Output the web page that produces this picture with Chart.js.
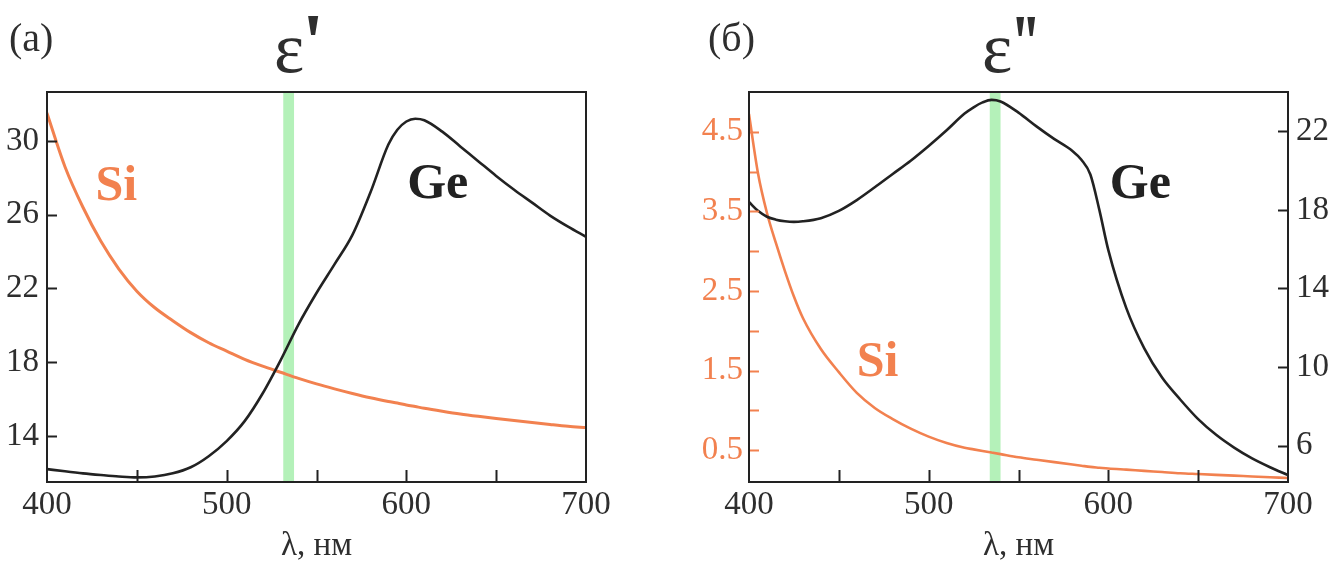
<!DOCTYPE html>
<html>
<head>
<meta charset="utf-8">
<script src="https://cdn.jsdelivr.net/npm/chart.js@4.4.1/dist/chart.umd.min.js"></script>
<style>
    html, body { margin: 0; padding: 0; background: #fff; }
    #wrap { position: relative; width: 1337px; height: 563px; overflow: hidden; }
    #epsRe { position: absolute; left: 0; top: 0; }
    #epsIm { position: absolute; left: 668px; top: 0; }
</style>
</head>
<body>
<div id="wrap">
    <canvas id="epsRe" width="668" height="563"></canvas>
    <canvas id="epsIm" width="669" height="563"></canvas>
</div>
<script>
// === DATA ===
// (a) real part, wavelength grid in nm
const wlA  = [400, 410, 420, 430, 440, 450, 460, 470, 480, 490, 500, 510, 520, 530, 540, 550, 560,
              570, 580, 590, 595, 600, 605, 610, 620, 630, 640, 650, 660, 670, 680, 690, 700];
const siRe = [31.5, 28.6, 26.4, 24.55, 23.05, 21.85, 20.95, 20.25, 19.6, 19.05, 18.6, 18.15, 17.78, 17.45, 17.12, 16.82, 16.55,
              16.3, 16.07, 15.87, 15.78, 15.68, 15.59, 15.5, 15.34, 15.19, 15.06, 14.94, 14.83, 14.73, 14.62, 14.52, 14.45];
const geRe = [12.2, 12.08, 11.97, 11.88, 11.8, 11.75, 11.8, 11.97, 12.3, 12.9, 13.72, 14.8, 16.3, 18.1, 20.05, 21.75, 23.3,
              24.9, 27.2, 29.8, 30.6, 31.05, 31.2, 31.12, 30.5, 29.7, 28.9, 28.1, 27.35, 26.65, 25.95, 25.35, 24.8];

// (б) imaginary part
const wlB  = [400, 405, 410, 415, 420, 425, 430, 440, 450, 460, 470, 480, 490, 500, 510, 520, 525, 530, 535,
              540, 550, 560, 570, 580, 585, 590, 595, 600, 610, 620, 630, 640, 650, 660, 670, 680, 690, 700];
const siIm = [4.72, 3.98, 3.48, 3.1, 2.75, 2.43, 2.16, 1.77, 1.48, 1.22, 1.03, 0.89, 0.77, 0.67, 0.59, 0.53, 0.51, 0.49, 0.47,
              0.45, 0.41, 0.38, 0.35, 0.32, 0.305, 0.29, 0.28, 0.27, 0.255, 0.24, 0.225, 0.21, 0.2, 0.19, 0.18, 0.17, 0.16, 0.15];
const geIm = [18.4, 17.95, 17.65, 17.5, 17.42, 17.39, 17.42, 17.58, 17.95, 18.5, 19.15, 19.83, 20.5, 21.25, 22.05, 22.9, 23.22, 23.47, 23.6,
              23.52, 22.95, 22.25, 21.6, 21.0, 20.55, 19.8, 18.0, 15.95, 13.0, 10.95, 9.45, 8.35, 7.35, 6.55, 5.9, 5.35, 4.9, 4.5];

// tick values
const xTicks   = [400, 500, 600, 700];
const xMarks   = [450, 500, 550, 600, 650];
const yReTicks = [14, 18, 22, 26, 30];
const siTicks  = [0.5, 1.5, 2.5, 3.5, 4.5];
const siMarks  = [0.5, 1, 1.5, 2, 2.5, 3, 3.5, 4, 4.5];
const geTicks  = [6, 10, 14, 18, 22];

// 532 nm laser line
const bandRe = [531.5, 537.5];
const bandIm = [534, 540];

// === STYLE ===
const SERIF  = "'Liberation Serif', 'Times New Roman', serif";
const ORANGE = '#f2814f';
const INK    = '#222222';
const TEXT   = '#2e2e2e';
const GREEN  = '#b4f1b9';

const pts = (xs, ys) => xs.map((x, i) => ({ x, y: ys[i] }));
const fixTicks = vals => scale => { scale.ticks = vals.map(v => ({ value: v })); };

// frame, inward tick marks, laser band, curve names and panel titles
const panelDecor = {
    id: 'panelDecor',
    beforeDatasetsDraw(chart, args, opts) {
        const { ctx, chartArea: a, scales } = chart;
        const x0 = scales.x.getPixelForValue(opts.band[0]);
        const x1 = scales.x.getPixelForValue(opts.band[1]);
        ctx.save();
        ctx.fillStyle = GREEN;
        ctx.fillRect(x0, a.top, x1 - x0, a.bottom - a.top);
        ctx.restore();
    },
    afterDraw(chart, args, opts) {
        const { ctx, chartArea: a, scales } = chart;
        ctx.save();

        // tick marks pointing into the plot
        ctx.lineWidth = 2;
        opts.marks.forEach(m => {
            const s = scales[m.scale];
            ctx.strokeStyle = m.color;
            m.values.forEach(v => {
                const p = Math.round(s.getPixelForValue(v)) + 0.5;
                ctx.beginPath();
                if (m.side === 'bottom') { ctx.moveTo(p, a.bottom); ctx.lineTo(p, a.bottom - 12); }
                if (m.side === 'left')   { ctx.moveTo(a.left, p);   ctx.lineTo(a.left + 10, p); }
                if (m.side === 'right')  { ctx.moveTo(a.right, p);  ctx.lineTo(a.right - 10, p); }
                ctx.stroke();
            });
        });

        // frame
        ctx.strokeStyle = INK;
        ctx.lineWidth = 2;
        ctx.strokeRect(a.left, a.top, a.right - a.left, a.bottom - a.top);

        // curve names
        ctx.textAlign = 'left';
        ctx.textBaseline = 'alphabetic';
        opts.names.forEach(n => {
            ctx.font = 'bold 50px ' + SERIF;
            ctx.fillStyle = n.color;
            ctx.fillText(n.text, scales.x.getPixelForValue(n.x), scales[n.axis].getPixelForValue(n.y));
        });

        // panel letter, epsilon and primes
        opts.titles.forEach(t => {
            ctx.font = t.font;
            ctx.fillStyle = TEXT;
            ctx.fillText(t.text, t.x, t.y);
        });
        ctx.restore();
    }
};

const xAxis = {
    type: 'linear', min: 400, max: 700, position: 'bottom',
    afterBuildTicks: fixTicks(xTicks),
    afterFit: s => { s.height = 81; },
    grid: { display: false, drawTicks: false },
    border: { display: false },
    ticks: { color: TEXT, font: { family: SERIF, size: 33 }, padding: 4, maxRotation: 0, autoSkip: false },
    title: { display: true, text: 'λ, нм', color: TEXT, font: { family: SERIF, size: 33 }, padding: { top: 0, bottom: -3 } }
};

const lineSet = (label, data, color, width, axis) => ({
    label, data, yAxisID: axis,
    borderColor: color, borderWidth: width,
    pointRadius: 0, fill: false,
    cubicInterpolationMode: 'monotone', borderCapStyle: 'round'
});

Chart.defaults.font.family = SERIF;
Chart.defaults.animation = false;

// === (a) ε' ===
new Chart(document.getElementById('epsRe'), {
    type: 'line',
    data: {
        datasets: [
            lineSet('Ge', pts(wlA, geRe), INK, 2.6, 'y'),
            lineSet('Si', pts(wlA, siRe), ORANGE, 3, 'y')
        ]
    },
    options: {
        responsive: false,
        layout: { padding: { top: 92, right: 82, bottom: 0, left: 0 } },
        plugins: {
            legend: { display: false },
            tooltip: { enabled: false },
            panelDecor: {
                band: bandRe,
                marks: [
                    { scale: 'x', side: 'bottom', values: xMarks, color: INK },
                    { scale: 'y', side: 'left', values: yReTicks, color: INK }
                ],
                names: [
                    { text: 'Si', x: 427, y: 26.8, axis: 'y', color: ORANGE },
                    { text: 'Ge', x: 600.5, y: 26.9, axis: 'y', color: INK }
                ],
                titles: [
                    { text: '(a)', x: 9, y: 51, font: '40px ' + SERIF },
                    { text: 'ε', x: 274, y: 72, font: '72px ' + SERIF },
                    { text: "'", x: 302, y: 69, font: 'bold 80px ' + SERIF }
                ]
            }
        },
        scales: {
            x: xAxis,
            y: {
                position: 'left', min: 11.5, max: 32.65,
                afterBuildTicks: fixTicks(yReTicks),
                afterFit: s => { s.width = 47; },
                grid: { display: false, drawTicks: false },
                border: { display: false },
                ticks: { color: TEXT, font: { size: 33 }, padding: 8 }
            }
        }
    },
    plugins: [panelDecor]
});

// === (б) ε'' ===
new Chart(document.getElementById('epsIm'), {
    type: 'line',
    data: {
        datasets: [
            lineSet('Ge', pts(wlB, geIm), INK, 2.6, 'yGe'),
            lineSet('Si', pts(wlB, siIm), ORANGE, 2.6, 'ySi')
        ]
    },
    options: {
        responsive: false,
        layout: { padding: { top: 92, right: 0, bottom: 0, left: 0 } },
        plugins: {
            legend: { display: false },
            tooltip: { enabled: false },
            panelDecor: {
                band: bandIm,
                marks: [
                    { scale: 'x', side: 'bottom', values: xMarks, color: INK },
                    { scale: 'ySi', side: 'left', values: siMarks, color: ORANGE },
                    { scale: 'yGe', side: 'right', values: geTicks, color: INK }
                ],
                names: [
                    { text: 'Si', x: 460, y: 1.43, axis: 'ySi', color: ORANGE },
                    { text: 'Ge', x: 600.8, y: 18.6, axis: 'yGe', color: INK }
                ],
                titles: [
                    { text: '(б)', x: 40, y: 51, font: '40px ' + SERIF },
                    { text: 'ε', x: 314, y: 72, font: '72px ' + SERIF },
                    { text: "'", x: 345, y: 70, font: '80px ' + SERIF },
                    { text: "'", x: 356, y: 70, font: '80px ' + SERIF }
                ]
            }
        },
        scales: {
            x: { ...xAxis },
            ySi: {
                position: 'left', min: 0.1, max: 5.0,
                afterBuildTicks: fixTicks(siTicks),
                afterFit: s => { s.width = 81; },
                grid: { display: false, drawTicks: false },
                border: { display: false },
                ticks: { color: ORANGE, font: { size: 33 }, padding: 6, callback: v => v.toFixed(1) }
            },
            yGe: {
                position: 'right', min: 4.15, max: 24,
                afterBuildTicks: fixTicks(geTicks),
                afterFit: s => { s.width = 49; },
                grid: { display: false, drawTicks: false },
                border: { display: false },
                ticks: { color: TEXT, font: { size: 33 }, padding: 8 }
            }
        }
    },
    plugins: [panelDecor]
});
</script>
</body>
</html>
